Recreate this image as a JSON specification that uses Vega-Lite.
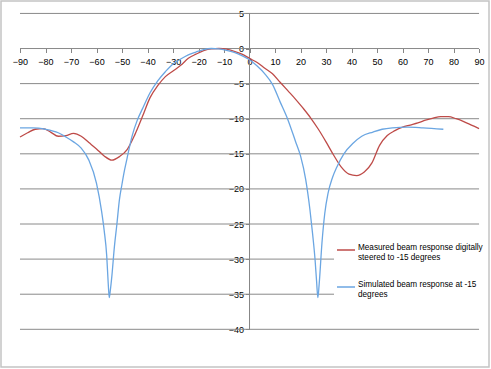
{
  "$schema": "https://vega.github.io/schema/vega-lite/v6.json",
  "width": 488,
  "height": 366,
  "padding": {"left": 1, "top": 1, "right": 2, "bottom": 2},
  "autosize": {"type": "none"},
  "background": "white",
  "config": {
    "view": {"stroke": "#c4c4c4", "strokeWidth": 1.5},
    "font": "Liberation Sans",
    "axisX": {
      "offset": -318.5, "domain": false, "grid": false, "ticks": true, "tickSize": 4,
      "tickColor": "#868686", "labelPadding": 5, "labelFontSize": 9, "labelColor": "#000000",
      "labelFont": "Liberation Sans Narrow, Liberation Sans", "labelFlush": false, "labelOverlap": false
    },
    "axisY": {
      "offset": -248.5, "domain": false, "grid": false, "ticks": true, "tickSize": 4,
      "tickColor": "#868686", "labelPadding": 2, "labelFontSize": 9, "labelColor": "#000000",
      "labelFont": "Liberation Sans Narrow, Liberation Sans", "labelFlush": false, "labelOverlap": false
    }
  },
  "datasets": {
    "curves": [
      {"s": "Measured beam response digitally steered to -15 degrees", "x": -90, "y": -12.6},
      {"s": "Measured beam response digitally steered to -15 degrees", "x": -87, "y": -12.0},
      {"s": "Measured beam response digitally steered to -15 degrees", "x": -84, "y": -11.5},
      {"s": "Measured beam response digitally steered to -15 degrees", "x": -81, "y": -11.4},
      {"s": "Measured beam response digitally steered to -15 degrees", "x": -78, "y": -11.9},
      {"s": "Measured beam response digitally steered to -15 degrees", "x": -75, "y": -12.5},
      {"s": "Measured beam response digitally steered to -15 degrees", "x": -72, "y": -12.4},
      {"s": "Measured beam response digitally steered to -15 degrees", "x": -69, "y": -12.1},
      {"s": "Measured beam response digitally steered to -15 degrees", "x": -66, "y": -12.5},
      {"s": "Measured beam response digitally steered to -15 degrees", "x": -63, "y": -13.4},
      {"s": "Measured beam response digitally steered to -15 degrees", "x": -60, "y": -14.3},
      {"s": "Measured beam response digitally steered to -15 degrees", "x": -57, "y": -15.3},
      {"s": "Measured beam response digitally steered to -15 degrees", "x": -54, "y": -15.9},
      {"s": "Measured beam response digitally steered to -15 degrees", "x": -51, "y": -15.4},
      {"s": "Measured beam response digitally steered to -15 degrees", "x": -48, "y": -14.4},
      {"s": "Measured beam response digitally steered to -15 degrees", "x": -45, "y": -12.3},
      {"s": "Measured beam response digitally steered to -15 degrees", "x": -42, "y": -9.7},
      {"s": "Measured beam response digitally steered to -15 degrees", "x": -39, "y": -7.0},
      {"s": "Measured beam response digitally steered to -15 degrees", "x": -36, "y": -5.3},
      {"s": "Measured beam response digitally steered to -15 degrees", "x": -33, "y": -4.0},
      {"s": "Measured beam response digitally steered to -15 degrees", "x": -30, "y": -3.2},
      {"s": "Measured beam response digitally steered to -15 degrees", "x": -27, "y": -2.4},
      {"s": "Measured beam response digitally steered to -15 degrees", "x": -24, "y": -1.4},
      {"s": "Measured beam response digitally steered to -15 degrees", "x": -21, "y": -0.8},
      {"s": "Measured beam response digitally steered to -15 degrees", "x": -18, "y": -0.3},
      {"s": "Measured beam response digitally steered to -15 degrees", "x": -15, "y": -0.05},
      {"s": "Measured beam response digitally steered to -15 degrees", "x": -12, "y": 0},
      {"s": "Measured beam response digitally steered to -15 degrees", "x": -9, "y": -0.1},
      {"s": "Measured beam response digitally steered to -15 degrees", "x": -6, "y": -0.4},
      {"s": "Measured beam response digitally steered to -15 degrees", "x": -3, "y": -0.8},
      {"s": "Measured beam response digitally steered to -15 degrees", "x": 0, "y": -1.4},
      {"s": "Measured beam response digitally steered to -15 degrees", "x": 3, "y": -2.0},
      {"s": "Measured beam response digitally steered to -15 degrees", "x": 6, "y": -2.8},
      {"s": "Measured beam response digitally steered to -15 degrees", "x": 9, "y": -3.6},
      {"s": "Measured beam response digitally steered to -15 degrees", "x": 12, "y": -4.8},
      {"s": "Measured beam response digitally steered to -15 degrees", "x": 15, "y": -6.0},
      {"s": "Measured beam response digitally steered to -15 degrees", "x": 18, "y": -7.2},
      {"s": "Measured beam response digitally steered to -15 degrees", "x": 21, "y": -8.5},
      {"s": "Measured beam response digitally steered to -15 degrees", "x": 24, "y": -9.9},
      {"s": "Measured beam response digitally steered to -15 degrees", "x": 27, "y": -11.5},
      {"s": "Measured beam response digitally steered to -15 degrees", "x": 30, "y": -13.3},
      {"s": "Measured beam response digitally steered to -15 degrees", "x": 33, "y": -15.2},
      {"s": "Measured beam response digitally steered to -15 degrees", "x": 36, "y": -16.9},
      {"s": "Measured beam response digitally steered to -15 degrees", "x": 39, "y": -17.9},
      {"s": "Measured beam response digitally steered to -15 degrees", "x": 42, "y": -18.1},
      {"s": "Measured beam response digitally steered to -15 degrees", "x": 45, "y": -17.6},
      {"s": "Measured beam response digitally steered to -15 degrees", "x": 48, "y": -16.3},
      {"s": "Measured beam response digitally steered to -15 degrees", "x": 51, "y": -13.8},
      {"s": "Measured beam response digitally steered to -15 degrees", "x": 54, "y": -12.4},
      {"s": "Measured beam response digitally steered to -15 degrees", "x": 57, "y": -11.7},
      {"s": "Measured beam response digitally steered to -15 degrees", "x": 60, "y": -11.2},
      {"s": "Measured beam response digitally steered to -15 degrees", "x": 63, "y": -10.9},
      {"s": "Measured beam response digitally steered to -15 degrees", "x": 66, "y": -10.6},
      {"s": "Measured beam response digitally steered to -15 degrees", "x": 69, "y": -10.2},
      {"s": "Measured beam response digitally steered to -15 degrees", "x": 72, "y": -9.9},
      {"s": "Measured beam response digitally steered to -15 degrees", "x": 75, "y": -9.7},
      {"s": "Measured beam response digitally steered to -15 degrees", "x": 78, "y": -9.7},
      {"s": "Measured beam response digitally steered to -15 degrees", "x": 81, "y": -10.0},
      {"s": "Measured beam response digitally steered to -15 degrees", "x": 84, "y": -10.4},
      {"s": "Measured beam response digitally steered to -15 degrees", "x": 87, "y": -10.9},
      {"s": "Measured beam response digitally steered to -15 degrees", "x": 90, "y": -11.4},
      {"s": "Simulated beam response at -15 degrees", "x": -90, "y": -11.3},
      {"s": "Simulated beam response at -15 degrees", "x": -85, "y": -11.3},
      {"s": "Simulated beam response at -15 degrees", "x": -80, "y": -11.5},
      {"s": "Simulated beam response at -15 degrees", "x": -75, "y": -12.0},
      {"s": "Simulated beam response at -15 degrees", "x": -72, "y": -12.6},
      {"s": "Simulated beam response at -15 degrees", "x": -69, "y": -13.3},
      {"s": "Simulated beam response at -15 degrees", "x": -66, "y": -14.2},
      {"s": "Simulated beam response at -15 degrees", "x": -63, "y": -15.9},
      {"s": "Simulated beam response at -15 degrees", "x": -60, "y": -19.2},
      {"s": "Simulated beam response at -15 degrees", "x": -58, "y": -23.2},
      {"s": "Simulated beam response at -15 degrees", "x": -57, "y": -25.9},
      {"s": "Simulated beam response at -15 degrees", "x": -56, "y": -29.5},
      {"s": "Simulated beam response at -15 degrees", "x": -55.4, "y": -33.5},
      {"s": "Simulated beam response at -15 degrees", "x": -55, "y": -35.5},
      {"s": "Simulated beam response at -15 degrees", "x": -54.6, "y": -34.5},
      {"s": "Simulated beam response at -15 degrees", "x": -54, "y": -32.5},
      {"s": "Simulated beam response at -15 degrees", "x": -53, "y": -28.3},
      {"s": "Simulated beam response at -15 degrees", "x": -52, "y": -25.0},
      {"s": "Simulated beam response at -15 degrees", "x": -51, "y": -21.5},
      {"s": "Simulated beam response at -15 degrees", "x": -50, "y": -19.3},
      {"s": "Simulated beam response at -15 degrees", "x": -49, "y": -17.3},
      {"s": "Simulated beam response at -15 degrees", "x": -48, "y": -15.6},
      {"s": "Simulated beam response at -15 degrees", "x": -46, "y": -12.4},
      {"s": "Simulated beam response at -15 degrees", "x": -44, "y": -10.2},
      {"s": "Simulated beam response at -15 degrees", "x": -42, "y": -8.6},
      {"s": "Simulated beam response at -15 degrees", "x": -39, "y": -6.3},
      {"s": "Simulated beam response at -15 degrees", "x": -36, "y": -4.6},
      {"s": "Simulated beam response at -15 degrees", "x": -33, "y": -3.3},
      {"s": "Simulated beam response at -15 degrees", "x": -30, "y": -2.2},
      {"s": "Simulated beam response at -15 degrees", "x": -27, "y": -1.5},
      {"s": "Simulated beam response at -15 degrees", "x": -24, "y": -0.9},
      {"s": "Simulated beam response at -15 degrees", "x": -21, "y": -0.5},
      {"s": "Simulated beam response at -15 degrees", "x": -18, "y": -0.15},
      {"s": "Simulated beam response at -15 degrees", "x": -15, "y": 0},
      {"s": "Simulated beam response at -15 degrees", "x": -12, "y": -0.05},
      {"s": "Simulated beam response at -15 degrees", "x": -9, "y": -0.25},
      {"s": "Simulated beam response at -15 degrees", "x": -6, "y": -0.55},
      {"s": "Simulated beam response at -15 degrees", "x": -3, "y": -1.0},
      {"s": "Simulated beam response at -15 degrees", "x": 0, "y": -1.6},
      {"s": "Simulated beam response at -15 degrees", "x": 3, "y": -2.5},
      {"s": "Simulated beam response at -15 degrees", "x": 6, "y": -3.6},
      {"s": "Simulated beam response at -15 degrees", "x": 9, "y": -5.1},
      {"s": "Simulated beam response at -15 degrees", "x": 12, "y": -7.6},
      {"s": "Simulated beam response at -15 degrees", "x": 15, "y": -10.1},
      {"s": "Simulated beam response at -15 degrees", "x": 18, "y": -13.2},
      {"s": "Simulated beam response at -15 degrees", "x": 20, "y": -15.3},
      {"s": "Simulated beam response at -15 degrees", "x": 22, "y": -18.6},
      {"s": "Simulated beam response at -15 degrees", "x": 23.7, "y": -23.0},
      {"s": "Simulated beam response at -15 degrees", "x": 24.7, "y": -26.3},
      {"s": "Simulated beam response at -15 degrees", "x": 25.7, "y": -30.1},
      {"s": "Simulated beam response at -15 degrees", "x": 26.3, "y": -33.2},
      {"s": "Simulated beam response at -15 degrees", "x": 26.8, "y": -35.5},
      {"s": "Simulated beam response at -15 degrees", "x": 27.3, "y": -33.6},
      {"s": "Simulated beam response at -15 degrees", "x": 28.4, "y": -27.7},
      {"s": "Simulated beam response at -15 degrees", "x": 29.5, "y": -23.5},
      {"s": "Simulated beam response at -15 degrees", "x": 30.8, "y": -20.6},
      {"s": "Simulated beam response at -15 degrees", "x": 32.5, "y": -18.4},
      {"s": "Simulated beam response at -15 degrees", "x": 34.2, "y": -16.9},
      {"s": "Simulated beam response at -15 degrees", "x": 37, "y": -15.0},
      {"s": "Simulated beam response at -15 degrees", "x": 40.6, "y": -13.5},
      {"s": "Simulated beam response at -15 degrees", "x": 44, "y": -12.5},
      {"s": "Simulated beam response at -15 degrees", "x": 48.4, "y": -11.9},
      {"s": "Simulated beam response at -15 degrees", "x": 52, "y": -11.5},
      {"s": "Simulated beam response at -15 degrees", "x": 56, "y": -11.3},
      {"s": "Simulated beam response at -15 degrees", "x": 62, "y": -11.2},
      {"s": "Simulated beam response at -15 degrees", "x": 68, "y": -11.3},
      {"s": "Simulated beam response at -15 degrees", "x": 76, "y": -11.5}
    ],
    "grid": [
      {"g": 5}, {"g": 0}, {"g": -5}, {"g": -10}, {"g": -15}, {"g": -20},
      {"g": -25}, {"g": -30}, {"g": -35}, {"g": -40}
    ]
  },
  "layer": [
    {
      "data": {"name": "grid"},
      "mark": {"type": "rule", "color": "#8a8a8a", "strokeWidth": 1},
      "encoding": {
        "y": {
          "field": "g", "type": "quantitative",
          "scale": {"domain": [-45.37, 6.77], "nice": false, "zero": false},
          "axis": {"orient": "left", "title": null, "values": [5, 0, -5, -10, -15, -20, -25, -30, -35, -40]}
        },
        "x": {
          "datum": -90, "type": "quantitative",
          "scale": {"domain": [-97.45, 93.9], "nice": false, "zero": false},
          "axis": {"orient": "bottom", "title": null, "values": [-90, -80, -70, -60, -50, -40, -30, -20, -10, 0, 10, 20, 30, 40, 50, 60, 70, 80, 90]}
        },
        "x2": {"datum": 90}
      }
    },
    {
      "data": {"values": [{}]},
      "mark": {"type": "rule", "color": "#868686", "strokeWidth": 1},
      "encoding": {
        "x": {"datum": 0, "type": "quantitative", "axis": {"orient": "bottom", "title": null, "values": [-90, -80, -70, -60, -50, -40, -30, -20, -10, 0, 10, 20, 30, 40, 50, 60, 70, 80, 90]}},
        "y": {"datum": -40, "type": "quantitative", "axis": {"orient": "left", "title": null, "values": [5, 0, -5, -10, -15, -20, -25, -30, -35, -40]}},
        "y2": {"datum": 5}
      }
    },
    {
      "data": {"name": "curves"},
      "mark": {"type": "line", "interpolate": "monotone", "strokeWidth": 1.3},
      "encoding": {
        "x": {"field": "x", "type": "quantitative", "axis": {"orient": "bottom", "title": null, "values": [-90, -80, -70, -60, -50, -40, -30, -20, -10, 0, 10, 20, 30, 40, 50, 60, 70, 80, 90]}},
        "y": {"field": "y", "type": "quantitative", "axis": {"orient": "left", "title": null, "values": [5, 0, -5, -10, -15, -20, -25, -30, -35, -40]}},
        "color": {
          "field": "s", "type": "nominal",
          "scale": {
            "domain": ["Measured beam response digitally steered to -15 degrees", "Simulated beam response at -15 degrees"],
            "range": ["#BE4B48", "#6BA6E2"]
          },
          "legend": {
            "title": null, "orient": "none", "legendX": 333, "legendY": 237,
            "fillColor": "white", "padding": 2,
            "symbolType": "stroke", "symbolSize": 324, "symbolStrokeWidth": 1.5,
            "labelFont": "Liberation Sans Narrow, Liberation Sans", "labelFontSize": 8.2,
            "labelColor": "#000000", "labelLimit": 200, "labelOffset": 2,
            "labelBaseline": "alphabetic", "rowPadding": 15,
            "labelExpr": "datum.label == 'Measured beam response digitally steered to -15 degrees' ? ['Measured beam response digitally', 'steered to -15 degrees'] : ['Simulated beam response at -15', 'degrees']"
          }
        }
      }
    }
  ]
}
